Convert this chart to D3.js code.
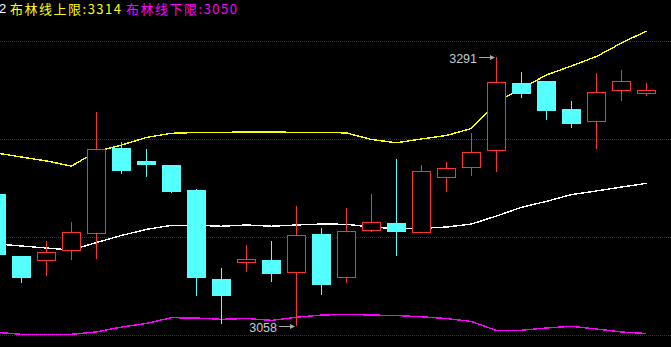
<!DOCTYPE html>
<html><head><meta charset="utf-8">
<script src="https://cdn.jsdelivr.net/npm/d3@7/dist/d3.min.js"></script>
<style>html,body{margin:0;padding:0;background:#000;overflow:hidden}svg{display:block}</style>
</head><body>
<svg id="c" width="671" height="347"></svg>
<script>
// ---- data ----
const openP  = [3172.5,3118.7,3114.1,3122.8,3137.5,3212.4,3201.1,3197.6,3175.9,3098.8,3112.9,3115.2,3104.2,3137.8,3099.9,3140.8,3147.3,3138.9,3186.6,3195.3,3210.0,3268.7,3270.4,3246.2,3234.6,3262.0,3258.9];
const highP  = [3175.0,3118.7,3131.7,3148.2,3243.6,3217.6,3211.5,3197.6,3176.8,3108.3,3128.2,3131.7,3162.1,3143.0,3160.3,3172.5,3202.8,3197.6,3200.2,3225.4,3291.0,3278.3,3270.4,3253.1,3277.4,3280.0,3268.7];
const lowP   = [3115.0,3095.5,3101.6,3115.5,3116.4,3190.1,3187.5,3173.3,3084.3,3060.0,3105.1,3096.4,3058.0,3085.1,3095.5,3139.8,3119.0,3138.9,3174.5,3188.3,3191.8,3256.0,3236.6,3230.0,3211.7,3253.4,3257.7];
const closeP = [3119.6,3099.9,3121.9,3139.2,3211.2,3192.7,3197.9,3174.5,3099.9,3084.3,3116.1,3103.3,3136.9,3093.8,3140.4,3148.0,3139.8,3192.4,3195.0,3208.9,3269.6,3259.4,3244.7,3233.4,3260.9,3270.4,3262.6];
const upperB = [3208.0,3204.5,3201.1,3196.7,3209.3,3214.9,3221.5,3225.1,3225.8,3226.0,3226.1,3226.1,3226.0,3226.0,3225.4,3219.7,3216.9,3220.2,3223.2,3229.3,3252.2,3263.9,3275.7,3283.5,3291.7,3303.4,3313.8];
const midB   = [3129.1,3127.4,3125.6,3123.9,3130.4,3136.5,3141.8,3145.3,3145.3,3144.5,3145.6,3144.5,3145.6,3146.4,3146.2,3143.8,3142.4,3142.7,3143.8,3146.4,3153.4,3160.9,3166.1,3172.0,3175.1,3178.5,3181.7];
const lowerB = [3052.5,3050.8,3050.8,3050.8,3052.9,3057.1,3060.2,3065.2,3064.9,3063.8,3064.5,3062.9,3065.6,3067.5,3068.1,3067.5,3067.1,3066.0,3064.5,3061.9,3054.1,3054.3,3056.3,3057.7,3055.4,3052.8,3051.5];
const gridLevels = [3050.3, 3135.2, 3220.2, 3305.1];
const legendNames = ["布林线上限", "布林线下限"];
const legendValues = [3314, 3050];

// ---- scales ----
const W = 671, H = 347;
const idx = d3.range(openP.length);
const x = d3.scaleBand().domain(idx).range([-16, 659]);
const y = d3.scaleLinear().domain([3058, 3291]).range([326, 57.3]);
const cx = i => x(i) + x.bandwidth() / 2;
const bodyW = x.bandwidth() * 0.76;

const svg = d3.select("#c");
svg.append("rect").attr("width", W).attr("height", H).attr("fill", "#000");

// grid
svg.append("g").selectAll("line").data(gridLevels).join("line")
  .attr("x1", 0).attr("x2", W)
  .attr("y1", d => Math.round(y(d)) + 0.5).attr("y2", d => Math.round(y(d)) + 0.5)
  .attr("stroke", "#b00000").attr("stroke-width", 1).attr("stroke-dasharray", "1,1")
  .attr("shape-rendering", "crispEdges");

// bands
const bands = [[upperB, "#ffff00"], [midB, "#ffffff"], [lowerB, "#ff00ff"]];
bands.forEach(([arr, col]) => {
  svg.append("path")
    .attr("d", d3.line().x((d, i) => cx(i)).y(d => y(d))(arr))
    .attr("fill", "none").attr("stroke", col).attr("stroke-width", 1.4)
    .attr("shape-rendering", "crispEdges");
});

// candles
const cyan = "#54ffff", red = "#ff3232";
const g = svg.append("g").attr("shape-rendering", "crispEdges");
idx.forEach(i => {
  const o = openP[i], c = closeP[i], h = highP[i], l = lowP[i];
  const up = c >= o;
  const top = Math.round(y(Math.max(o, c))), bot = Math.round(y(Math.min(o, c)));
  const yh = Math.round(y(h)), yl = Math.round(y(l));
  const xc = Math.floor(cx(i)) + 0.5;
  const x0 = xc - bodyW / 2;
  if (up) {
    if (yh < top) g.append("line").attr("x1", xc).attr("x2", xc).attr("y1", yh).attr("y2", top).attr("stroke", red);
    if (yl > bot) g.append("line").attr("x1", xc).attr("x2", xc).attr("y1", bot).attr("y2", yl).attr("stroke", red);
    g.append("rect").attr("x", x0 + 0.5).attr("y", top + 0.5)
      .attr("width", bodyW - 1).attr("height", Math.max(1, bot - top - 1))
      .attr("fill", "#000").attr("stroke", red).attr("stroke-width", 1);
  } else {
    g.append("line").attr("x1", xc).attr("x2", xc).attr("y1", yh).attr("y2", yl).attr("stroke", cyan);
    g.append("rect").attr("x", x0).attr("y", top)
      .attr("width", bodyW).attr("height", Math.max(1, bot - top)).attr("fill", cyan);
  }
});

// max / min annotations
const iMax = d3.maxIndex(highP), iMin = d3.minIndex(lowP);
[[iMax, highP[iMax]], [iMin, lowP[iMin]]].forEach(([i, v]) => {
  const yy = Math.round(y(v)) + 0.5;
  const xc = Math.floor(cx(i));
  svg.append("line").attr("x1", xc - 17).attr("x2", xc - 4).attr("y1", yy).attr("y2", yy)
    .attr("stroke", "#a8a8a8").attr("stroke-width", 1);
  svg.append("path").attr("d", `M${xc - 1},${yy} L${xc - 6},${yy - 2.5} L${xc - 6},${yy + 2.5} Z`).attr("fill", "#a8a8a8");
  svg.append("text").attr("x", xc - 19).attr("y", yy + 5.5).attr("text-anchor", "end")
    .attr("font-family", "Liberation Sans, Arial, sans-serif").attr("font-size", 12.5)
    .attr("fill", "#c4ccd6").text(d3.format("d")(v));
});

// legend
svg.append("text").attr("x", -1).attr("y", 13).attr("fill", "#ffffff")
  .attr("font-family", "Liberation Sans, Arial, sans-serif").attr("font-size", 13).text("2");
const legCols = ["#ffff00", "#ff00ff"], legX = [10, 126];
legendNames.forEach((n, k) => {
  svg.append("text").attr("x", legX[k]).attr("y", 13.5).attr("fill", legCols[k])
    .attr("font-family", "Noto Sans CJK SC, sans-serif").attr("font-size", 13)
    .attr("textLength", 111).attr("lengthAdjust", "spacing")
    .text(n + ":" + legendValues[k]);
});
</script>
</body></html>
